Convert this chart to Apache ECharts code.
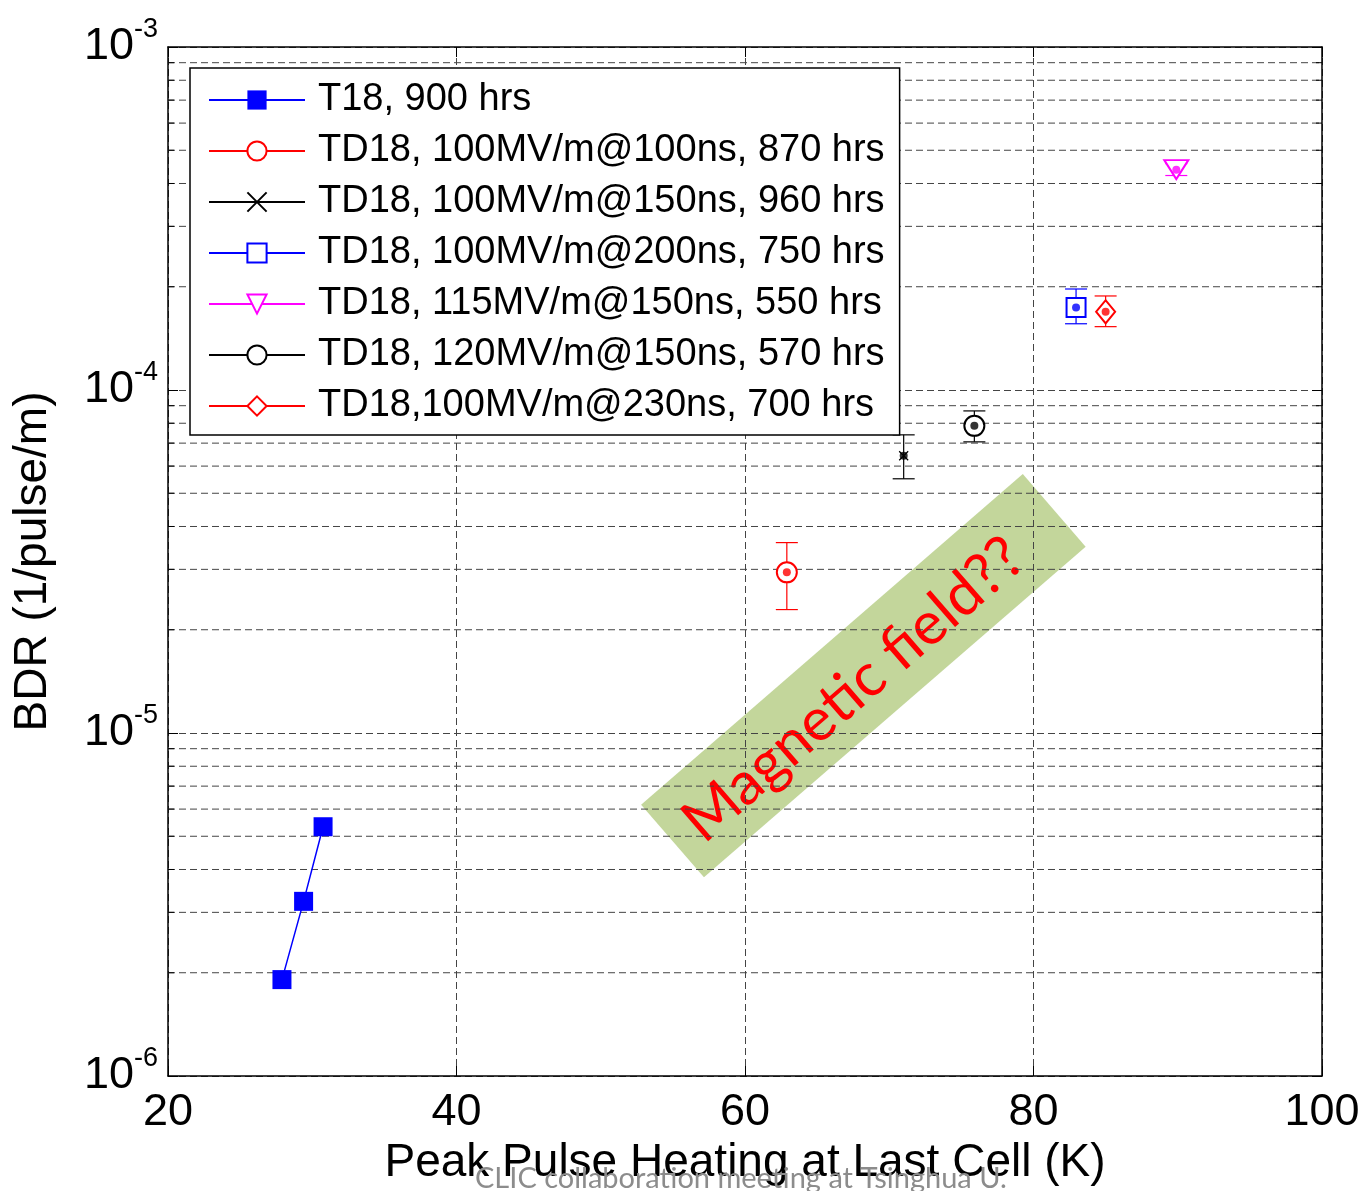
<!DOCTYPE html>
<html>
<head>
<meta charset="utf-8">
<script src="https://cdn.jsdelivr.net/npm/echarts@6/dist/echarts.min.js"></script>
<style>
  html, body { margin: 0; padding: 0; background: #fff; }
  #chart { width: 1365px; height: 1191px; }
</style>
</head>
<body>
<div id="chart"></div>
<script>
// T18 reference structure
var t18Name = 'T18, 900 hrs';
var t18X = [27.9, 29.4, 30.75];
var t18Y = [1.91e-6, 3.23e-6, 5.33e-6];

// TD18 runs, one point each with error bars (legend order)
var tdNames = [
    'TD18, 100MV/m@100ns, 870 hrs',
    'TD18, 100MV/m@150ns, 960 hrs',
    'TD18, 100MV/m@200ns, 750 hrs',
    'TD18, 115MV/m@150ns, 550 hrs',
    'TD18, 120MV/m@150ns, 570 hrs',
    'TD18,100MV/m@230ns, 700 hrs'
];
var tdX = [62.9, 71.0, 82.95, 89.9, 75.9, 85.0];
var tdY = [2.94e-5, 6.43e-5, 1.74e-4, 4.39e-4, 7.86e-5, 1.69e-4];
var tdLow = [2.29e-5, 5.51e-5, 1.56e-4, 4.22e-4, 7.06e-5, 1.53e-4];
var tdHigh = [3.59e-5, 7.40e-5, 1.97e-4, 4.57e-4, 8.69e-5, 1.88e-4];

// axes
var xTicks = [20, 40, 60, 80, 100];
var yMinorTicks = [
    2e-6, 3e-6, 4e-6, 5e-6, 6e-6, 7e-6, 8e-6, 9e-6,
    2e-5, 3e-5, 4e-5, 5e-5, 6e-5, 7e-5, 8e-5, 9e-5,
    2e-4, 3e-4, 4e-4, 5e-4, 6e-4, 7e-4, 8e-4, 9e-4
];

// styles for the TD18 markers
var tdColors = ['#ff0000', '#000000', '#0000ff', '#ff00ff', '#000000', '#ff0000'];
var tdSymbols = ['emptyCircle', 'path://M0,0L10,10M10,0L0,10', 'emptyRect', 'emptyTriangle', 'emptyCircle', 'emptyDiamond'];
var tdSymbolSizes = [20, 9, 19, [24, 19], 20, [19, 23]];
var tdRotate = [0, 0, 0, 180, 0, 0];

var FONT = '"Liberation Sans", Arial, sans-serif';
var GRID_DASH = [7, 4];

var chart = echarts.init(document.getElementById('chart'));

var series = [];

// minor log grid lines + inner minor ticks
series.push({
    type: 'custom',
    silent: true,
    z: 1,
    data: yMinorTicks.map(function (v) { return [xTicks[0], v]; }),
    renderItem: function (params, api) {
        var v = api.value(1);
        var l = api.coord([xTicks[0], v]);
        var r = api.coord([xTicks[xTicks.length - 1], v]);
        return {
            type: 'group',
            children: [
                { type: 'line', shape: { x1: l[0], y1: l[1], x2: r[0], y2: r[1] },
                  style: { stroke: '#444', lineWidth: 1, lineDash: GRID_DASH } },
                { type: 'line', shape: { x1: l[0], y1: l[1], x2: l[0] + 6, y2: l[1] },
                  style: { stroke: '#000', lineWidth: 1 } },
                { type: 'line', shape: { x1: r[0] - 6, y1: r[1], x2: r[0], y2: r[1] },
                  style: { stroke: '#000', lineWidth: 1 } }
            ]
        };
    }
});

// T18 line
series.push({
    name: t18Name,
    type: 'line',
    z: 5,
    data: t18X.map(function (x, i) { return [x, t18Y[i]]; }),
    symbol: 'rect',
    symbolSize: 19,
    itemStyle: { color: '#0000ff' },
    lineStyle: { color: '#0000ff', width: 1.5 }
});

tdNames.forEach(function (name, i) {
    var c = tdColors[i];
    // error bar
    series.push({
        type: 'custom',
        silent: true,
        z: 3,
        data: [[tdX[i], tdLow[i], tdHigh[i]]],
        encode: { x: 0, y: [1, 2] },
        renderItem: function (params, api) {
            var lo = api.coord([api.value(0), api.value(1)]);
            var hi = api.coord([api.value(0), api.value(2)]);
            var cap = 11;
            var st = { stroke: c, lineWidth: 1.2 };
            return {
                type: 'group',
                children: [
                    { type: 'line', shape: { x1: lo[0], y1: lo[1], x2: hi[0], y2: hi[1] }, style: st },
                    { type: 'line', shape: { x1: lo[0] - cap, y1: lo[1], x2: lo[0] + cap, y2: lo[1] }, style: st },
                    { type: 'line', shape: { x1: hi[0] - cap, y1: hi[1], x2: hi[0] + cap, y2: hi[1] }, style: st }
                ]
            };
        }
    });
    // marker (legend entry)
    series.push({
        name: name,
        type: 'line',
        z: 4,
        data: [[tdX[i], tdY[i]]],
        symbol: tdSymbols[i],
        symbolSize: tdSymbolSizes[i],
        symbolRotate: tdRotate[i],
        itemStyle: { color: c, borderColor: c, borderWidth: 1.2 },
        lineStyle: { color: c, width: 1 }
    });
    // centre dot
    series.push({
        type: 'scatter',
        silent: true,
        z: 6,
        data: [[tdX[i], tdY[i]]],
        symbol: 'circle',
        symbolSize: 8,
        itemStyle: { color: c }
    });
});

var option = {
    animation: false,
    backgroundColor: '#fff',
    textStyle: { fontFamily: FONT },
    grid: { left: 168, top: 47, right: 43, bottom: 112 },
    legend: {
        data: [t18Name].concat(tdNames),
        orient: 'vertical',
        align: 'left',
        left: 190,
        top: 68,
        padding: [12, 15, 9, 18],
        backgroundColor: '#fff',
        borderColor: '#000',
        borderWidth: 1.5,
        itemWidth: 96,
        itemHeight: 24,
        itemGap: 11,
        textStyle: { fontFamily: FONT, fontSize: 38, color: '#000', lineHeight: 40, padding: [0, 0, 0, 8] }
    },
    xAxis: [{
        type: 'value',
        min: 20,
        max: 100,
        interval: 20,
        name: 'Peak Pulse Heating at Last Cell (K)',
        nameLocation: 'middle',
        nameGap: 64,
        nameTextStyle: { fontFamily: FONT, fontSize: 46, color: '#000' },
        axisLine: { lineStyle: { color: '#000', width: 1.5 } },
        axisTick: { inside: true, length: 10, lineStyle: { color: '#000' } },
        axisLabel: { fontFamily: FONT, fontSize: 45, color: '#000', margin: 14 },
        splitLine: { show: true, lineStyle: { color: '#444', type: GRID_DASH } }
    }, {
        type: 'value',
        position: 'top',
        min: 20,
        max: 100,
        interval: 20,
        axisLine: { lineStyle: { color: '#000', width: 1.5 } },
        axisTick: { inside: true, length: 10, lineStyle: { color: '#000' } },
        axisLabel: { show: false },
        splitLine: { show: false }
    }],
    yAxis: [{
        type: 'log',
        logBase: 10,
        min: 1e-6,
        max: 1e-3,
        name: 'BDR (1/pulse/m)',
        nameLocation: 'middle',
        nameGap: 112,
        nameTextStyle: { fontFamily: FONT, fontSize: 46, color: '#000' },
        axisLine: { lineStyle: { color: '#000', width: 1.5 } },
        axisTick: { inside: true, length: 10, lineStyle: { color: '#000' } },
        axisLabel: {
            margin: 10,
            formatter: function (v) {
                return '{b|10}{s|' + Math.round(Math.log10(v)) + '}';
            },
            rich: {
                b: { fontFamily: FONT, fontSize: 45, color: '#000', lineHeight: 45 },
                s: { fontFamily: FONT, fontSize: 27, color: '#000', verticalAlign: 'top', padding: [0, 0, 34, 0] }
            }
        },
        splitLine: { show: true, lineStyle: { color: '#444', type: GRID_DASH } }
    }, {
        type: 'log',
        logBase: 10,
        min: 1e-6,
        max: 1e-3,
        position: 'right',
        axisLine: { lineStyle: { color: '#000', width: 1.5 } },
        axisTick: { inside: true, length: 10, lineStyle: { color: '#000' } },
        axisLabel: { show: false },
        splitLine: { show: false }
    }],
    graphic: [{
        type: 'group',
        x: 863,
        y: 676,
        rotation: 40.9 * Math.PI / 180,
        z: 10,
        children: [{
            type: 'rect',
            shape: { x: -252, y: -48, width: 505, height: 96 },
            style: { fill: '#c3d69b' }
        }, {
            type: 'text',
            x: -16,
            y: 4,
            style: {
                text: 'Magnetic field??',
                textAlign: 'center',
                textVerticalAlign: 'middle',
                fill: '#ff0000',
                font: '60px Lato, "Open Sans", sans-serif'
            }
        }]
    }, {
        type: 'text',
        left: 475,
        top: 1164,
        z: 20,
        style: {
            text: 'CLIC collaboration meeting at Tsinghua U.',
            fill: '#8c8c8c',
            font: '29px Lato, "Open Sans", sans-serif'
        }
    }],
    series: series
};

chart.setOption(option);
window.addEventListener('resize', function () { chart.resize(); });
</script>
</body>
</html>
